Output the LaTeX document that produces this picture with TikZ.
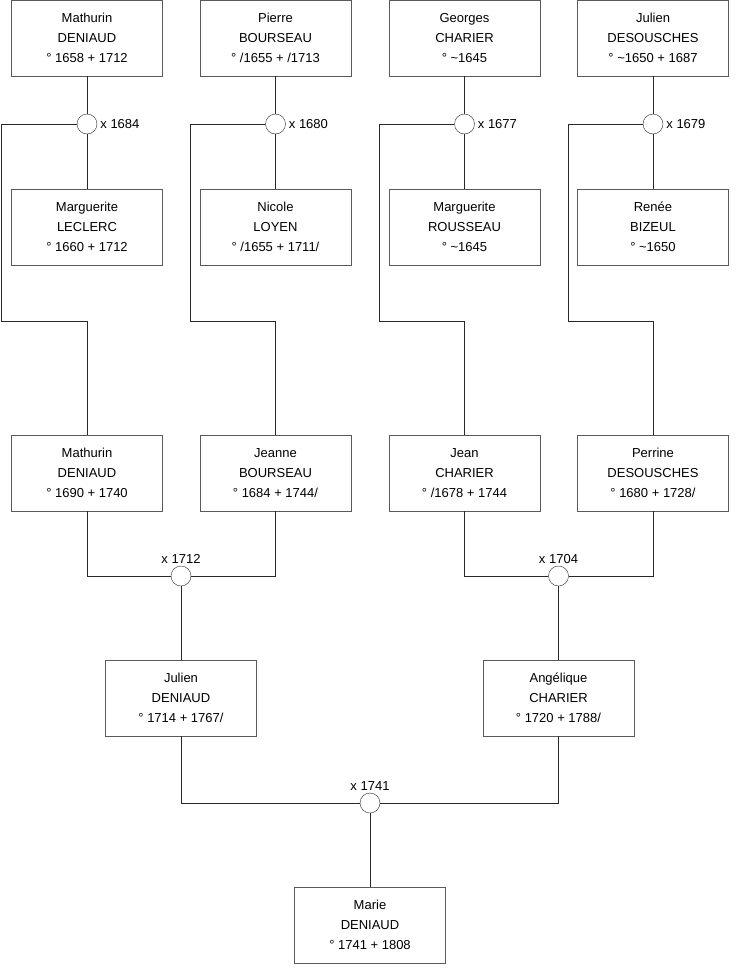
\documentclass[tikz,border=0pt]{standalone}
\usepackage{fontspec}
\setmainfont{Liberation Sans}
\usetikzlibrary{positioning}
\definecolor{BoxGray}{RGB}{90,90,90}
\definecolor{LineGray}{RGB}{40,40,40}
\tikzset{
	person/.style={draw=BoxGray, fill=white, minimum width=151pt, minimum height=76pt,
		align=center, inner sep=0pt, font=\fontsize{13}{20}\selectfont},
	wed/.style={draw=LineGray, fill=white, circle, minimum size=20pt, inner sep=0pt},
	link/.style={draw=LineGray, line width=0.9pt},
	year/.style={font=\fontsize{13}{15}\selectfont, inner sep=1pt}
}
\begin{document}
\begin{tikzpicture}[x=1pt, y=-1pt]
			\useasboundingbox (0,0) rectangle (740,975);
			% grandparents' parents
			\node[person] (p1) at (87,38) {Mathurin\\DENIAUD\\° 1658 + 1712};
			\node[person] (p2) at (275.5,38) {Pierre\\BOURSEAU\\° /1655 + /1713};
			\node[person] (p3) at (464.5,38) {Georges\\CHARIER\\° \textasciitilde 1645};
			\node[person] (p4) at (653,38) {Julien\\DESOUSCHES\\° \textasciitilde 1650 + 1687};
			\node[wed] (w1) at (87,124) {};
			\node[wed] (w2) at (275.5,124) {};
			\node[wed] (w3) at (464.5,124) {};
			\node[wed] (w4) at (653,124) {};
			\node[year, right=2pt of w1] {x 1684};
			\node[year, right=2pt of w2] {x 1680};
			\node[year, right=2pt of w3] {x 1677};
			\node[year, right=2pt of w4] {x 1679};
			\node[person] (m1) at (87,227) {Marguerite\\LECLERC\\° 1660 + 1712};
			\node[person] (m2) at (275.5,227) {Nicole\\LOYEN\\° /1655 + 1711/};
			\node[person] (m3) at (464.5,227) {Marguerite\\ROUSSEAU\\° \textasciitilde 1645};
			\node[person] (m4) at (653,227) {Renée\\BIZEUL\\° \textasciitilde 1650};
			% grandparents
			\node[person] (g1) at (87,473) {Mathurin\\DENIAUD\\° 1690 + 1740};
			\node[person] (g2) at (275.5,473) {Jeanne\\BOURSEAU\\° 1684 + 1744/};
			\node[person] (g3) at (464.5,473) {Jean\\CHARIER\\° /1678 + 1744};
			\node[person] (g4) at (653,473) {Perrine\\DESOUSCHES\\° 1680 + 1728/};
			\coordinate (k1) at (1.5,321);
			\coordinate (k2) at (190,321);
			\coordinate (k3) at (379,321);
			\coordinate (k4) at (568,321);
			\node[wed] (w5) at (181,576) {};
			\node[wed] (w6) at (558.5,576) {};
			\node[year, above=1pt of w5] {x 1712};
			\node[year, above=1pt of w6] {x 1704};
			% parents
			\node[person] (f1) at (181,698) {Julien\\DENIAUD\\° 1714 + 1767/};
			\node[person] (f2) at (558.5,698) {Angélique\\CHARIER\\° 1720 + 1788/};
			\node[wed] (w7) at (370,803) {};
			\node[year, above=1pt of w7] {x 1741};
			\node[person] (me) at (370,925) {Marie\\DENIAUD\\° 1741 + 1808};
			% links
			\draw[link] (p1) -- (w1) -- (m1);
			\draw[link] (p2) -- (w2) -- (m2);
			\draw[link] (p3) -- (w3) -- (m3);
			\draw[link] (p4) -- (w4) -- (m4);
			\draw[link] (w1.west) -| (k1) -| (g1.north);
			\draw[link] (w2.west) -| (k2) -| (g2.north);
			\draw[link] (w3.west) -| (k3) -| (g3.north);
			\draw[link] (w4.west) -| (k4) -| (g4.north);
			\draw[link] (g1.south) |- (w5.west);
			\draw[link] (g2.south) |- (w5.east);
			\draw[link] (g3.south) |- (w6.west);
			\draw[link] (g4.south) |- (w6.east);
			\draw[link] (w5) -- (f1);
			\draw[link] (w6) -- (f2);
			\draw[link] (f1.south) |- (w7.west);
			\draw[link] (f2.south) |- (w7.east);
			\draw[link] (w7) -- (me);
		\end{tikzpicture}
\end{document}
